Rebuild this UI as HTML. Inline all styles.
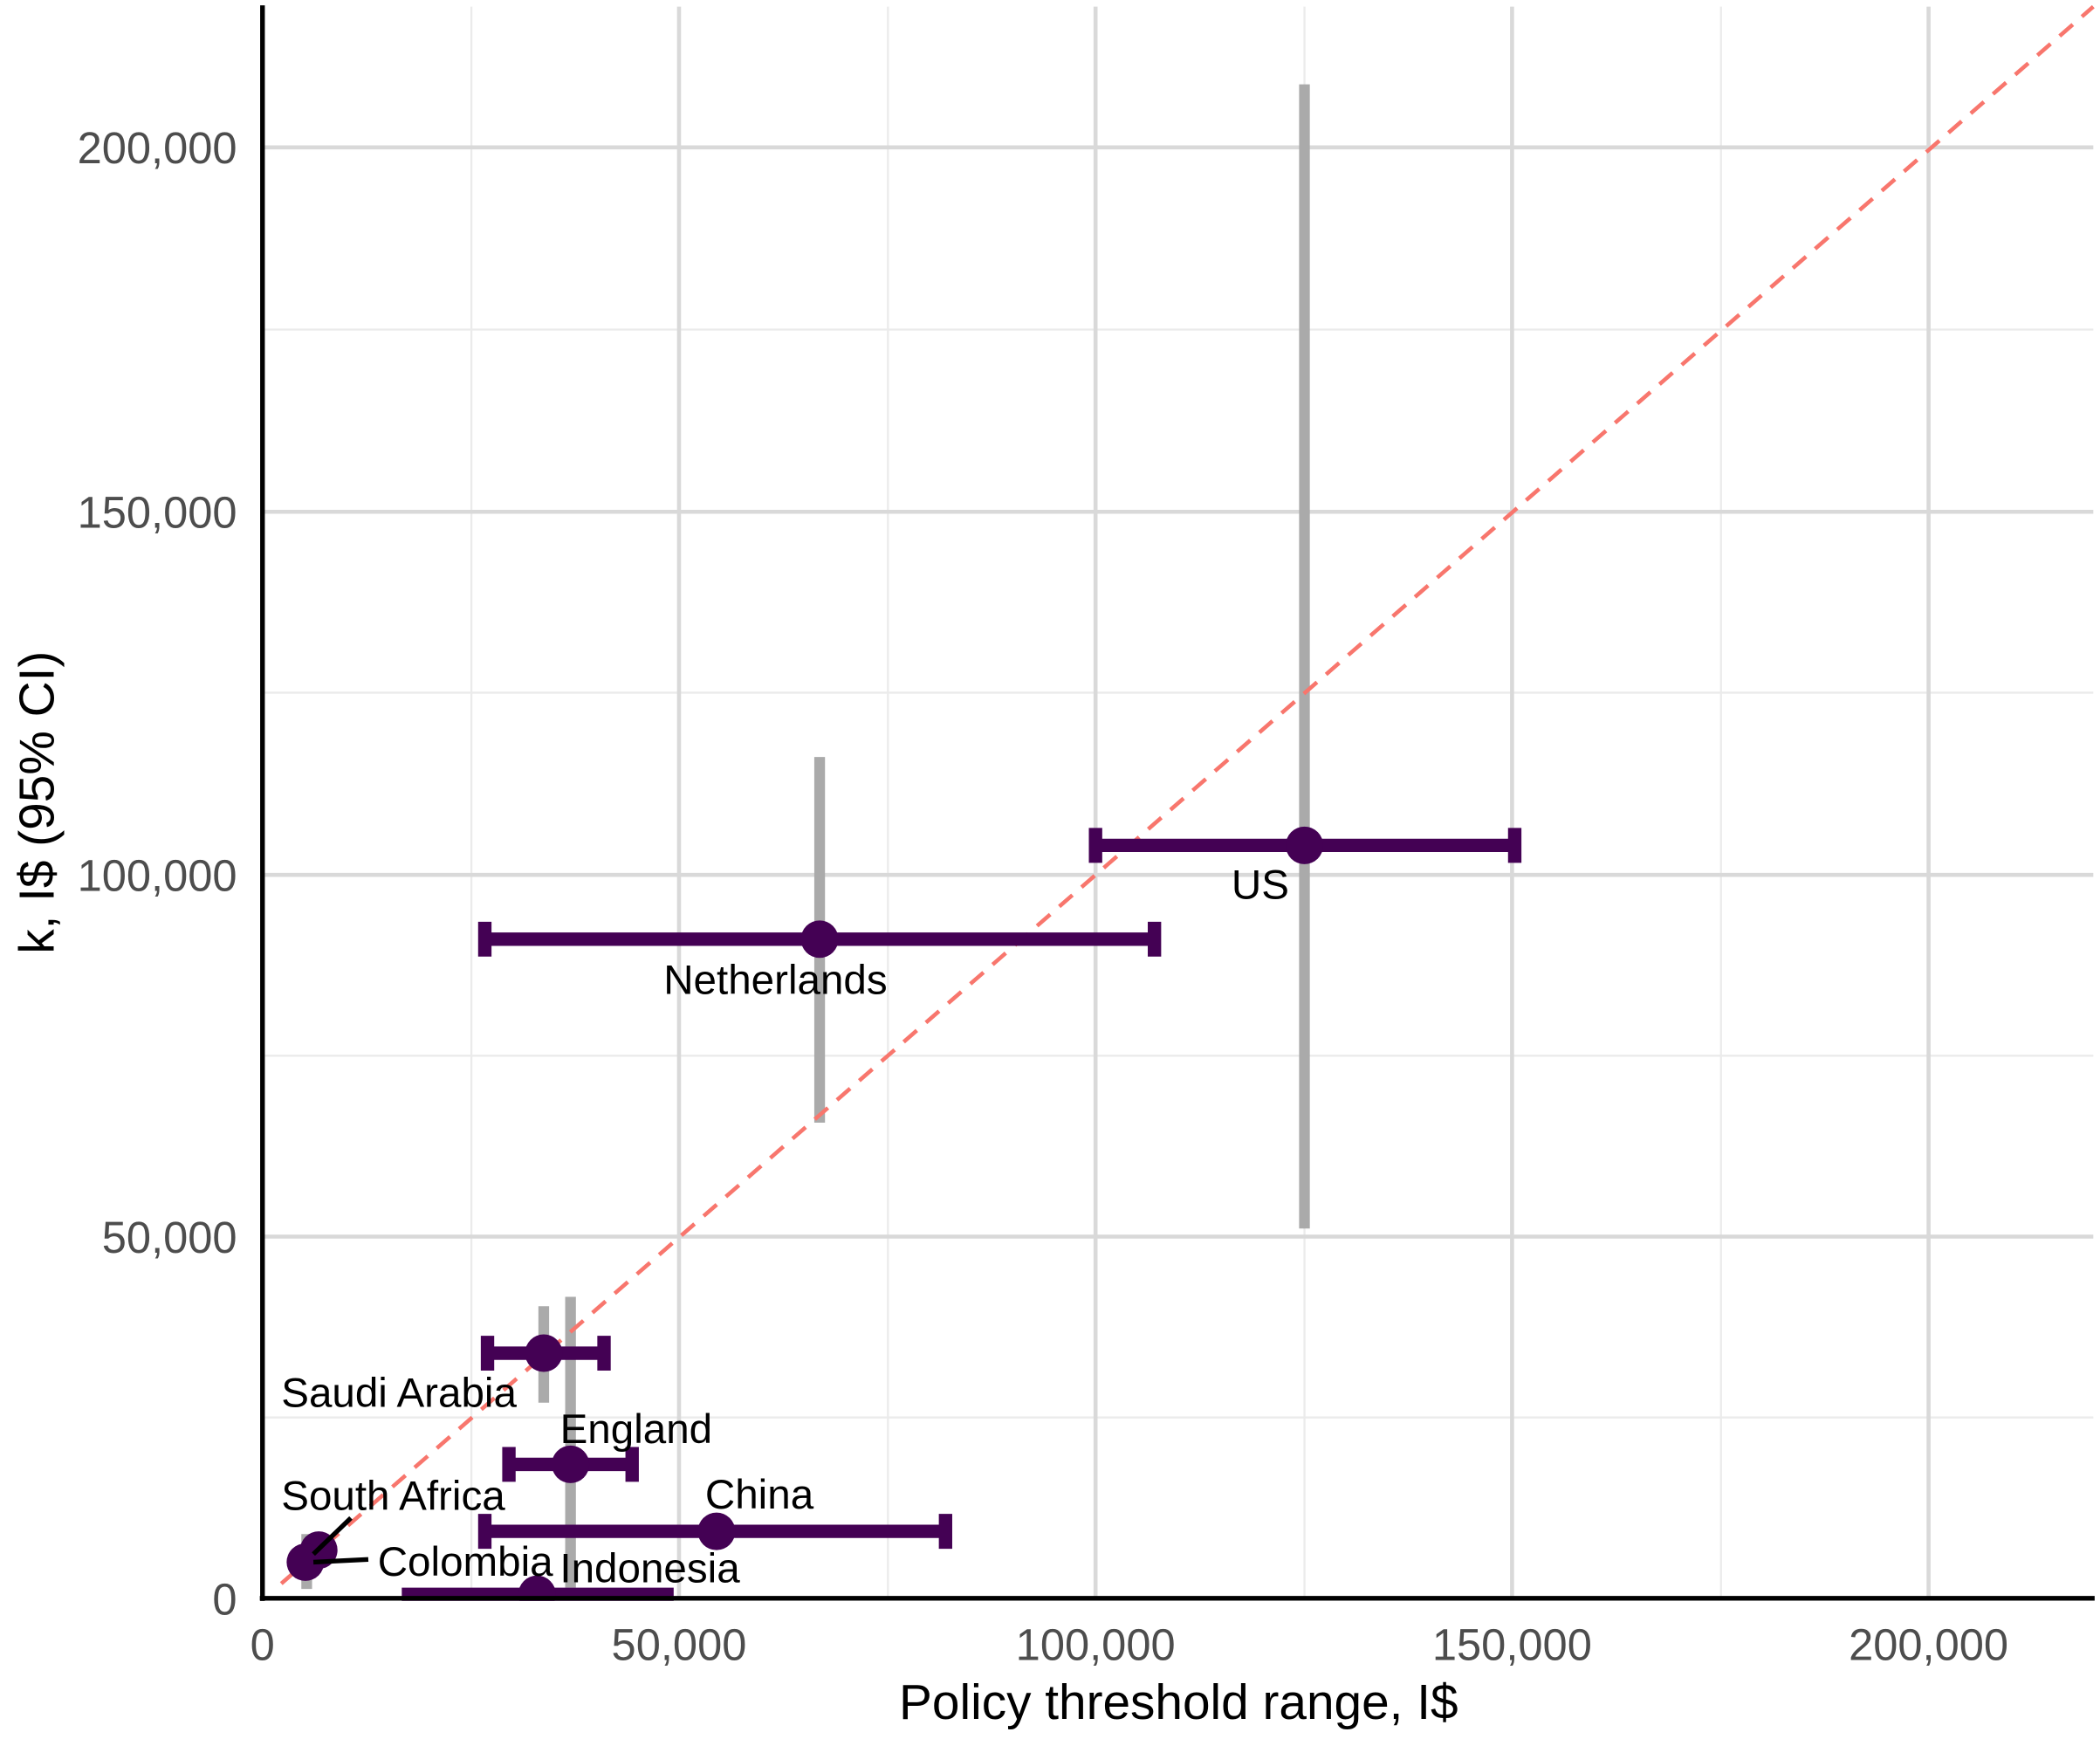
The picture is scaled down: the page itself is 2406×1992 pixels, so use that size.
<!DOCTYPE html>
<html><head><meta charset="utf-8"><style>html,body{margin:0;padding:0;background:#fff}svg{display:block}</style></head>
<body>
<svg width="2406" height="1992" viewBox="0 0 1568 1298" preserveAspectRatio="none" xmlns="http://www.w3.org/2000/svg" font-family="Liberation Sans, sans-serif">
<rect width="1568" height="1298" fill="#fff"/>
<g stroke="#ebebeb" stroke-width="1.5">
<line x1="352" y1="5" x2="352" y2="1193"/><line x1="663" y1="5" x2="663" y2="1193"/><line x1="974" y1="5" x2="974" y2="1193"/><line x1="1285" y1="5" x2="1285" y2="1193"/>
<line x1="196" y1="1058" x2="1563" y2="1058"/><line x1="196" y1="788" x2="1563" y2="788"/><line x1="196" y1="517" x2="1563" y2="517"/><line x1="196" y1="246" x2="1563" y2="246"/>
</g>
<g stroke="#d9d9d9" stroke-width="3">
<line x1="507" y1="5" x2="507" y2="1193"/><line x1="818" y1="5" x2="818" y2="1193"/><line x1="1129" y1="5" x2="1129" y2="1193"/><line x1="1440" y1="5" x2="1440" y2="1193"/>
<line x1="196" y1="923" x2="1563" y2="923"/><line x1="196" y1="653" x2="1563" y2="653"/><line x1="196" y1="382" x2="1563" y2="382"/><line x1="196" y1="110" x2="1563" y2="110"/>
</g>
<g stroke="#aaaaaa" stroke-width="8">
<line x1="974" y1="63" x2="974" y2="917"/><line x1="612" y1="565" x2="612" y2="838"/>
<line x1="406" y1="975" x2="406" y2="1047"/><line x1="426" y1="968" x2="426" y2="1185"/>
<line x1="229" y1="1145" x2="229" y2="1186"/>
</g>
<line x1="210" y1="1182" x2="1563" y2="5" stroke="#f8766d" stroke-width="3" stroke-dasharray="13,9"/>
<g stroke="#440154" stroke-width="10" fill="none">
<path d="M818 631H1131M818 618V644M1131 618V644"/>
<path d="M362 701H862M362 688V714M862 688V714"/>
<path d="M364 1010H451M364 997V1023M451 997V1023"/>
<path d="M380 1093H472M380 1080V1106M472 1080V1106"/>
<path d="M362 1143H706M362 1130V1156M706 1130V1156"/>
<path d="M300 1190H503"/>
</g>
<g fill="#440154">
<circle cx="974" cy="631" r="14"/><circle cx="612" cy="701" r="14"/><circle cx="406" cy="1010" r="14"/><circle cx="426" cy="1093" r="14"/><circle cx="535" cy="1143" r="14"/><circle cx="238" cy="1157" r="14"/><circle cx="228" cy="1166" r="14"/><circle cx="401" cy="1190" r="14"/>
</g>
<rect x="196" y="1195" width="1370" height="20" fill="#fff"/>
<g stroke="#000" stroke-width="3.5"><line x1="262" y1="1133" x2="234" y2="1160"/><line x1="275" y1="1164" x2="234" y2="1166"/></g>
<g font-size="31" fill="#000">
<text x="941" y="671" text-anchor="middle">US</text>
<text x="579" y="742" text-anchor="middle">Netherlands</text>
<text x="210" y="1050">Saudi Arabia</text>
<text x="475" y="1077" text-anchor="middle">England</text>
<text x="567" y="1126" text-anchor="middle">China</text>
<text x="210" y="1127">South Africa</text>
<text x="282" y="1176">Colombia</text>
<text x="418" y="1181">Indonesia</text>
</g>
<g stroke="#000" stroke-width="3.5"><line x1="196" y1="4" x2="196" y2="1195"/><line x1="194" y1="1193" x2="1564" y2="1193"/></g>
<g font-size="33" fill="#4d4d4d">
<g text-anchor="end"><text x="177" y="1205">0</text><text x="177" y="935">50,000</text><text x="177" y="665">100,000</text><text x="177" y="394">150,000</text><text x="177" y="122">200,000</text></g>
<g text-anchor="middle"><text x="196" y="1239">0</text><text x="507" y="1239">50,000</text><text x="818" y="1239">100,000</text><text x="1129" y="1239">150,000</text><text x="1440" y="1239">200,000</text></g>
</g>
<text x="880" y="1283" font-size="37" text-anchor="middle" fill="#000">Policy threshold range, I$</text>
<text transform="translate(40,599) rotate(-90)" font-size="37" text-anchor="middle" fill="#000">k, I$ (95% CI)</text>
</svg>
</body></html>
